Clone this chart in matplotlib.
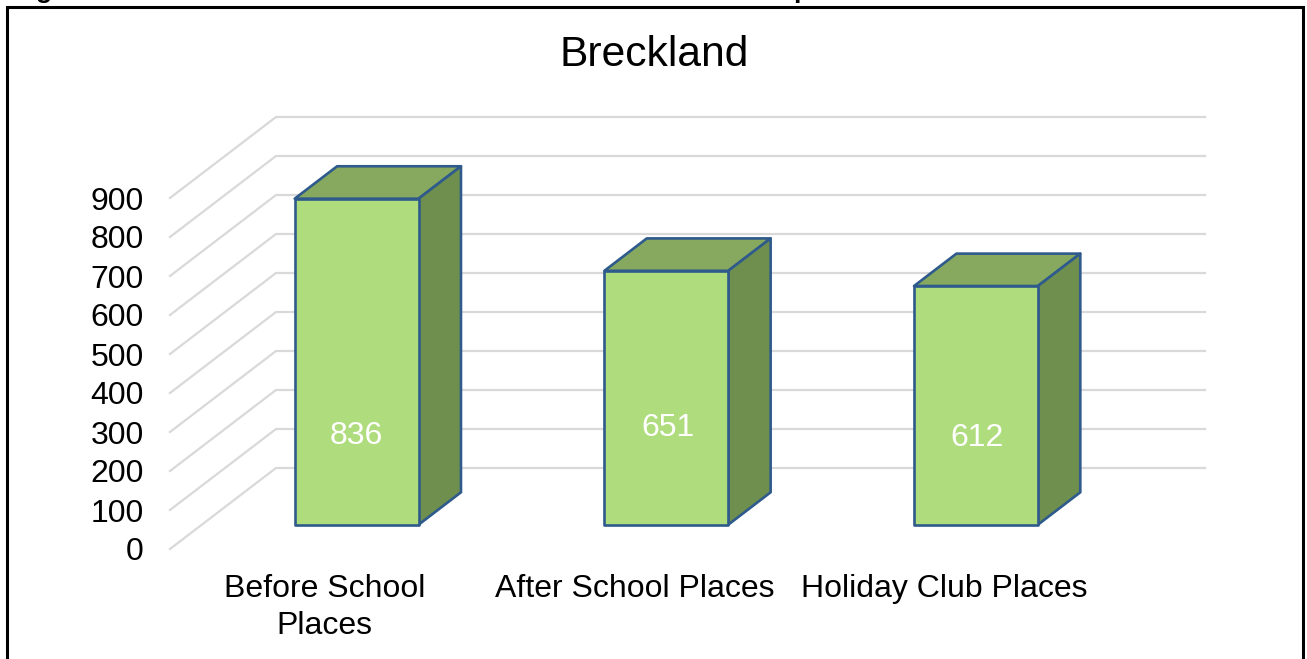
#!/usr/bin/env python3
"""
Breckland childcare places, drawn as a 3D style column chart.
"""
import matplotlib
matplotlib.use("Agg")
import matplotlib.pyplot as plt
from matplotlib.patches import Polygon, Rectangle

categories = ["Before School\nPlaces", "After School Places", "Holiday Club Places"]
places = [836, 651, 612]
value_ticks = [0, 100, 200, 300, 400, 500, 600, 700, 800, 900]
grid_values = [0, 100, 200, 300, 400, 500, 600, 700, 800, 900]
# height of the number inside each column, not centred in the original
label_heights = [228, 248, 223]
label_shift = [0.0, 0.006, 0.003]

W, H = 1307, 659
# front plane of the chart box, in pixels
LEFT, RIGHT, BOTTOM, TOP = 170, 1099, 549, 198
# how far the back wall sits from the front plane, in data units
DEPTH_X = 106 / ((RIGHT - LEFT) / 3)
DEPTH_Y = 81 / ((BOTTOM - TOP) / 900)
BAR_WIDTH = 0.40
BAR_D0, BAR_D1 = 0.30, 0.70

plt.rcParams["font.family"] = ["Liberation Sans", "DejaVu Sans"]
fig = plt.figure(figsize=(W / 100, H / 100), dpi=100)
ax = fig.add_axes([LEFT / W, 1 - BOTTOM / H, (RIGHT - LEFT) / W, (BOTTOM - TOP) / H])
ax.set_xlim(-0.5, 2.5)
ax.set_ylim(0, 900)
ax.patch.set_visible(False)
for s in ax.spines.values():
    s.set_visible(False)


def project(x, v, d):
    """Shift a point from the front plane towards the back wall."""
    return x + d * DEPTH_X, v + d * DEPTH_Y


# gridlines: floor/side wall diagonal then back wall
for v in grid_values:
    xs, ys = zip(project(-0.5, v, 0), project(-0.5, v, 1), project(2.5, v, 1))
    ax.plot(xs, ys, color="#d9d9d9", lw=1.6, clip_on=False, zorder=1)

edge = "#2f5a8c"
for i, val in enumerate(places):
    x0, x1 = i - BAR_WIDTH / 2, i + BAR_WIDTH / 2
    top = [project(x0, val, BAR_D0), project(x1, val, BAR_D0),
           project(x1, val, BAR_D1), project(x0, val, BAR_D1)]
    side = [project(x1, 0, BAR_D0), project(x1, 0, BAR_D1),
            project(x1, val, BAR_D1), project(x1, val, BAR_D0)]
    front = [project(x0, 0, BAR_D0), project(x1, 0, BAR_D0),
             project(x1, val, BAR_D0), project(x0, val, BAR_D0)]
    for pts, col in [(top, "#86a85f"), (side, "#6f8f4f"), (front, "#afdd7e")]:
        ax.add_patch(Polygon(pts, closed=True, facecolor=col, edgecolor=edge,
                             lw=1.9, clip_on=False, zorder=3, joinstyle="round"))
    lx, ly = project(i + label_shift[i], 0, BAR_D0)
    ax.text(lx, ly + label_heights[i], str(val), color="white", fontsize=23,
            ha="center", va="center", zorder=4)

ax.set_yticks(value_ticks)
ax.set_xticks(range(len(categories)))
ax.set_xticklabels(categories, linespacing=1.3)
ax.tick_params(axis="y", length=0, pad=19, labelsize=23, colors="black")
ax.tick_params(axis="x", length=0, pad=18, labelsize=23, colors="black")

fig.text(654 / W, 1 - 55 / H, "Breckland", fontsize=30.7, ha="center", va="center")

# caption above the frame is cut off by the picture edge, only descenders show
fig.text(36 / W, 1 + 1.5 / H, "g", fontsize=19, fontweight="bold", va="baseline")
fig.text(793 / W, 1 + 1.5 / H, "p", fontsize=19, fontweight="bold", va="baseline")

# outer frame, open at the bottom edge of the picture
frame = Rectangle((7 / W, -0.05), (1303 - 7) / W, 1.05 - 6.5 / H, transform=fig.transFigure,
                  fill=False, edgecolor="black", lw=2.2, zorder=5)
fig.add_artist(frame)

fig.savefig("out.png", dpi=100)
